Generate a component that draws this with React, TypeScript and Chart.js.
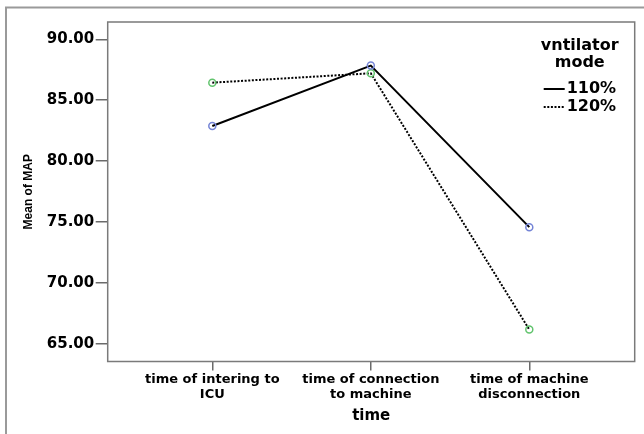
import React, { useEffect, useRef } from 'react';
import { Chart, registerables } from 'chart.js';

Chart.register(...registerables);

// ---- data ----
const categories: string[][] = [
  ['time of intering to', 'ICU'],
  ['time of connection', 'to machine'],
  ['time of machine', 'disconnection'],
];
const categoryPositions: number[] = [0, 1, 2];
const series110: number[] = [82.88, 87.84, 74.58];
const series120: number[] = [86.44, 87.21, 66.17];
const seriesLabels: string[] = ['110%', '120%'];
const legendTitle: string[] = ['vntilator', 'mode'];
const yTickValues: number[] = [65, 70, 75, 80, 85, 90];
const xTitle = 'time';
const yTitle = 'Mean of MAP';

const FONT = 'DejaVu Sans';

const framePlugin = {
  id: 'frames',
  beforeDraw(chart: any) {
    const ctx = chart.ctx;
    ctx.save();
    ctx.fillStyle = '#ffffff';
    ctx.fillRect(0, 0, chart.width, chart.height);
    ctx.strokeStyle = '#9a9a9a';
    ctx.lineWidth = 2;
    ctx.strokeRect(6, 7.5, 800, 600);
    ctx.restore();
  },
  afterDatasetsDraw(chart: any) {
    const { ctx, chartArea } = chart;
    ctx.save();
    ctx.strokeStyle = '#7a7a7a';
    ctx.lineWidth = 1.5;
    ctx.strokeRect(chartArea.left, chartArea.top, chartArea.right - chartArea.left, chartArea.bottom - chartArea.top);
    ctx.restore();
  },
};

const legendPlugin = {
  id: 'insideLegend',
  afterDraw(chart: any) {
    const { ctx, chartArea } = chart;
    const r = chartArea.right;
    const t = chartArea.top;
    ctx.save();
    ctx.fillStyle = '#000';
    ctx.font = `bold 16px "${FONT}"`;
    ctx.textAlign = 'center';
    ctx.textBaseline = 'middle';
    legendTitle.forEach((line, i) => {
      ctx.fillText(line, r - 55, t + 24 + i * 17);
    });
    chart.data.datasets.forEach((ds: any, i: number) => {
      const y = t + 67 + i * 18;
      ctx.beginPath();
      ctx.strokeStyle = '#000';
      ctx.lineWidth = ds.borderWidth;
      ctx.setLineDash(ds.borderDash || []);
      ctx.moveTo(r - 91, y);
      ctx.lineTo(r - 70, y);
      ctx.stroke();
      ctx.setLineDash([]);
      ctx.textAlign = 'left';
      ctx.fillText(ds.label, r - 68, y);
    });
    ctx.restore();
  },
};

export default function App() {
  const ref = useRef<HTMLCanvasElement | null>(null);
  useEffect(() => {
    if (!ref.current) return;
    const chart = new Chart(ref.current, {
      type: 'line',
      data: {
        datasets: [
          {
            label: seriesLabels[0],
            data: series110.map((v, i) => ({ x: categoryPositions[i], y: v })),
            borderColor: '#000',
            borderWidth: 2,
            pointRadius: 3.5,
            pointBorderWidth: 1.5,
            pointBorderColor: '#7484d6',
            pointBackgroundColor: 'rgba(0,0,0,0)',
            tension: 0,
          },
          {
            label: seriesLabels[1],
            data: series120.map((v, i) => ({ x: categoryPositions[i], y: v })),
            borderColor: '#000',
            borderWidth: 2,
            borderDash: [2, 1.6],
            pointRadius: 3.5,
            pointBorderWidth: 1.5,
            pointBorderColor: '#62c46e',
            pointBackgroundColor: 'rgba(0,0,0,0)',
            tension: 0,
          },
        ],
      },
      options: {
        responsive: false,
        animation: false,
        devicePixelRatio: 1,
        layout: { padding: { left: 0, top: 22, right: 9.3, bottom: 0 } },
        plugins: { legend: { display: false }, tooltip: { enabled: false } },
        scales: {
          x: {
            type: 'linear',
            min: -0.66,
            max: 2.665,
            afterBuildTicks: (s: any) => {
              s.ticks = categoryPositions.map((v) => ({ value: v }));
            },
            afterFit: (s: any) => {
              s.height = 72.5;
            },
            ticks: {
              callback: (v: any) => categories[Math.round(Number(v))],
              font: { family: FONT, weight: 'bold', size: 13, lineHeight: 1.15 },
              color: '#000',
              padding: 2,
              maxRotation: 0,
              autoSkip: false,
            },
            grid: { drawOnChartArea: false, drawTicks: true, tickLength: 9, color: '#6a6a6a', lineWidth: 1.5 },
            border: { display: false },
            title: {
              display: true,
              text: xTitle,
              color: '#000',
              font: { family: FONT, weight: 'bold', size: 15 },
              padding: { top: 0, bottom: 9 },
            },
          },
          y: {
            type: 'linear',
            min: 63.55,
            max: 91.42,
            afterBuildTicks: (s: any) => {
              s.ticks = yTickValues.map((v) => ({ value: v }));
            },
            afterFit: (s: any) => {
              s.width = 107.7;
            },
            ticks: {
              callback: (v: any) => Number(v).toFixed(2),
              font: { family: FONT, weight: 'bold', size: 15 },
              color: '#000',
              padding: 1.5,
            },
            grid: { drawOnChartArea: false, drawTicks: true, tickLength: 12, color: '#6a6a6a', lineWidth: 1.5 },
            border: { display: false },
            title: {
              display: true,
              text: yTitle,
              color: '#000',
              font: { family: 'Liberation Sans', weight: 'bold', size: 12 },
              padding: { top: 21, bottom: 0 },
            },
          },
        },
      } as any,
      plugins: [framePlugin, legendPlugin],
    });
    return () => chart.destroy();
  }, []);
  return (
    <div style={{ position: 'fixed', left: 0, top: 0, width: 644, height: 434, background: '#fff' }}>
      <canvas ref={ref} width={644} height={434} style={{ display: 'block' }} />
    </div>
  );
}
